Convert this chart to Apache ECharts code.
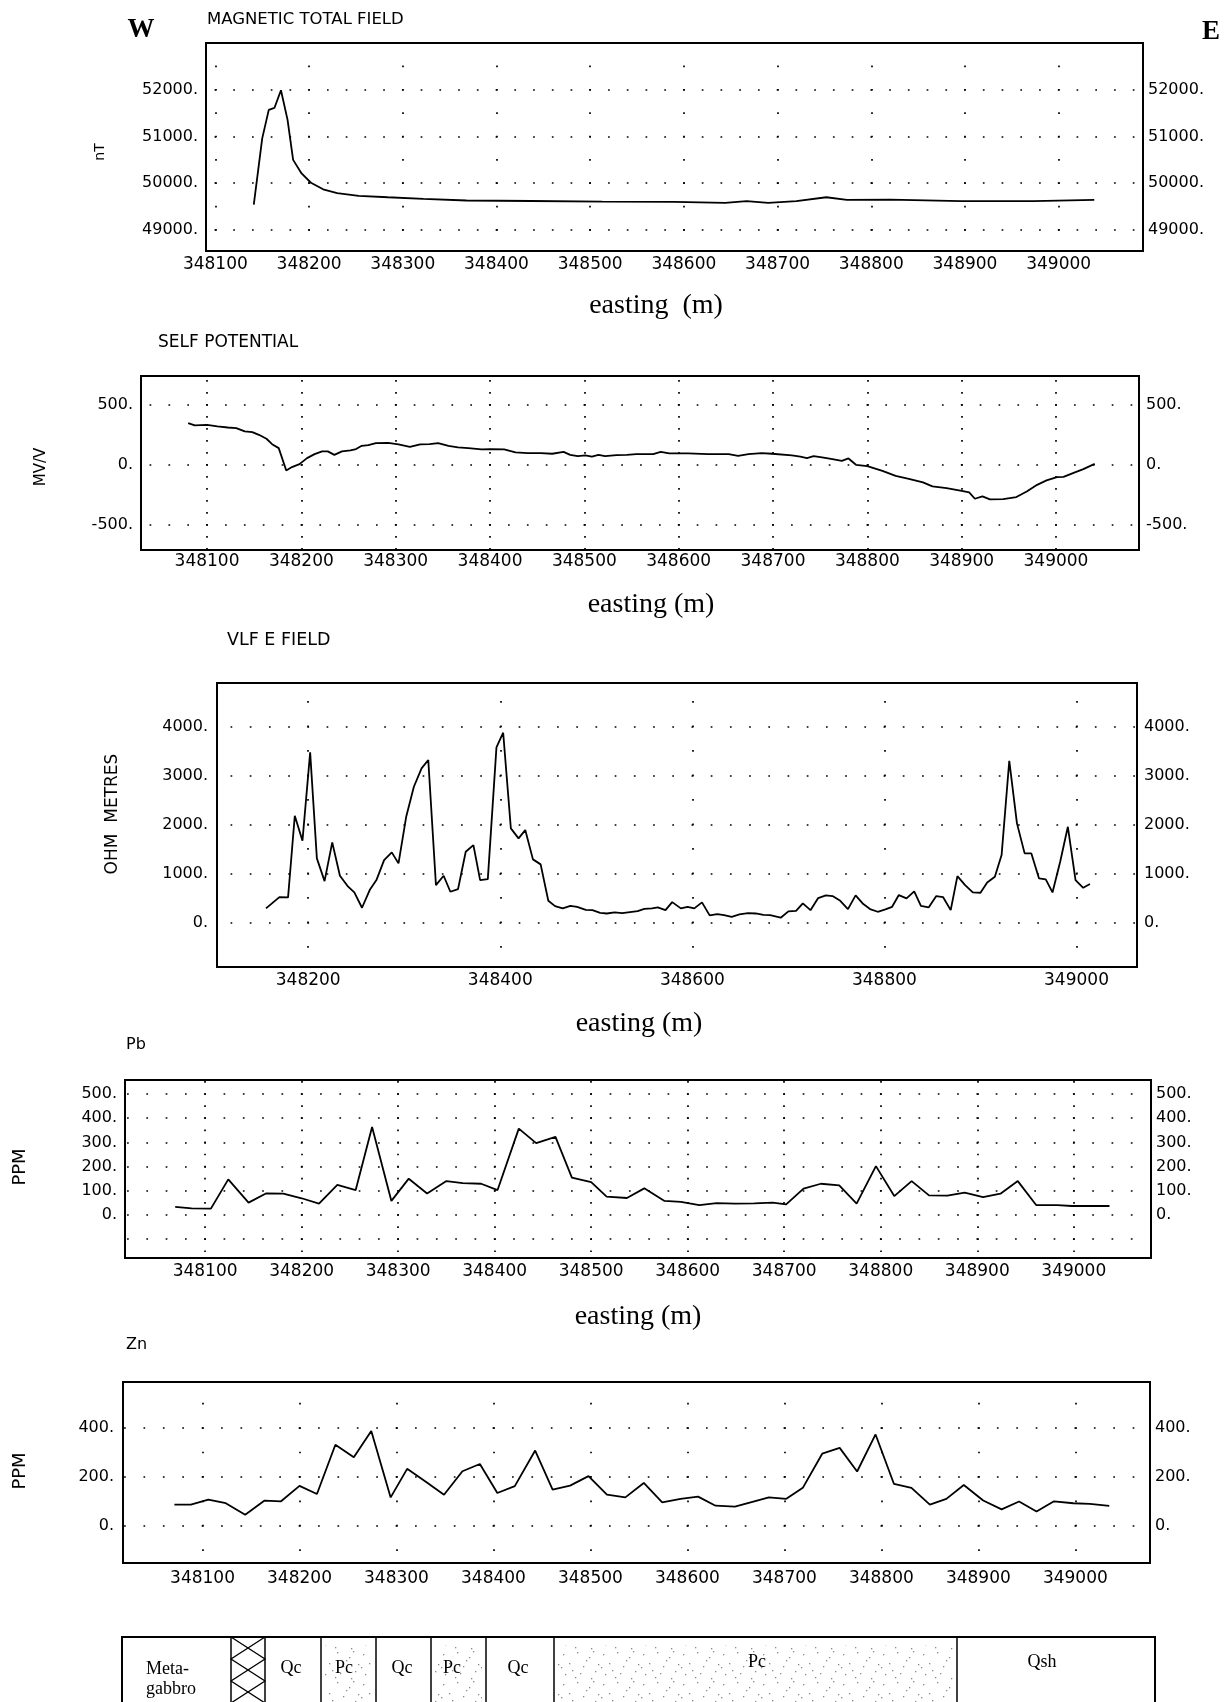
<!DOCTYPE html>
<html>
<head>
<meta charset="utf-8">
<script src="https://cdn.jsdelivr.net/npm/echarts@6/dist/echarts.min.js"></script>
<style>
  html, body { margin: 0; padding: 0; background: #fff; }
  #profile { width: 1226px; height: 1702px; }
</style>
</head>
<body>
<div id="profile"></div>
<script>
// magnetic total field, nT
var magEasting = [348141, 348150, 348157, 348163, 348170, 348177, 348183, 348192, 348202, 348215,
  348230, 348253, 348284, 348322, 348368, 348437, 348513, 348590, 348644, 348667,
  348690, 348720, 348752, 348774, 348820, 348896, 348973, 349038];
var magField = [49540, 50960, 51570, 51610, 51990, 51360, 50500, 50210, 50010, 49870,
  49790, 49730, 49700, 49665, 49630, 49620, 49607, 49600, 49580, 49615,
  49580, 49615, 49700, 49645, 49650, 49615, 49615, 49645];

// self potential, mV/V
var spEasting = [348080, 348087, 348100, 348111, 348122, 348131, 348140, 348148, 348155, 348163,
  348169, 348176, 348184, 348190, 348198, 348206, 348214, 348222, 348228, 348235,
  348243, 348252, 348258, 348264, 348271, 348279, 348292, 348303, 348315, 348326,
  348336, 348345, 348356, 348366, 348377, 348391, 348401, 348415, 348427, 348440,
  348454, 348466, 348478, 348485, 348493, 348501, 348508, 348515, 348522, 348534,
  348545, 348555, 348564, 348573, 348581, 348590, 348610, 348631, 348653, 348663,
  348674, 348688, 348699, 348720, 348729, 348736, 348743, 348752, 348763, 348773,
  348780, 348788, 348800, 348816, 348830, 348844, 348859, 348869, 348884, 348900,
  348908, 348914, 348922, 348930, 348944, 348958, 348969, 348980, 348990, 349001,
  349008, 349018, 349029, 349041];
var spValue = [347, 328, 333, 320, 311, 306, 278, 272, 250, 217,
  172, 139, -47, -19, 6, 56, 89, 112, 112, 83,
  112, 120, 131, 158, 164, 181, 183, 170, 150, 170,
  172, 181, 158, 145, 139, 128, 131, 128, 103, 97,
  97, 92, 108, 83, 72, 78, 69, 83, 72, 81,
  83, 89, 89, 89, 108, 95, 95, 89, 89, 75,
  89, 97, 92, 78, 69, 56, 72, 61, 47, 33,
  53, 0, -11, -50, -92, -117, -147, -180, -194, -217,
  -230, -283, -263, -288, -286, -269, -222, -167, -130, -103,
  -100, -69, -36, 8];

// VLF E field, ohm metres
var vlfEasting = [348156, 348170, 348179, 348186, 348194, 348202, 348209, 348217, 348225, 348233,
  348241, 348248, 348256, 348264, 348271, 348279, 348287, 348294, 348302, 348310,
  348318, 348325, 348333, 348341, 348348, 348356, 348364, 348372, 348379, 348387,
  348396, 348403, 348411, 348419, 348426, 348434, 348442, 348450, 348457, 348465,
  348473, 348480, 348489, 348496, 348504, 348511, 348519, 348527, 348535, 348543,
  348550, 348558, 348564, 348572, 348579, 348588, 348595, 348602, 348610, 348618,
  348626, 348633, 348641, 348649, 348658, 348666, 348674, 348681, 348692, 348700,
  348708, 348715, 348723, 348731, 348739, 348746, 348754, 348762, 348770, 348778,
  348785, 348793, 348801, 348808, 348815, 348823, 348831, 348838, 348846, 348854,
  348861, 348869, 348876, 348884, 348892, 348900, 348907, 348915, 348922, 348930,
  348938, 348946, 348953, 348961, 348968, 348975, 348983, 348991, 348999, 349007,
  349014];
var vlfValue = [286, 516, 510, 2176, 1666, 3470, 1306, 843, 1633, 952,
  741, 612, 299, 659, 863, 1272, 1429, 1204, 2155, 2768,
  3143, 3313, 761, 952, 625, 680, 1441, 1578, 863, 884,
  3572, 3870, 1918, 1714, 1884, 1286, 1184, 441, 333, 286,
  339, 318, 257, 250, 196, 182, 203, 189, 210, 231,
  278, 286, 306, 250, 414, 286, 318, 286, 408, 143,
  169, 149, 114, 162, 189, 182, 155, 149, 95, 224,
  237, 388, 250, 496, 551, 537, 441, 272, 551, 374,
  272, 217, 265, 318, 558, 490, 633, 339, 306, 537,
  517, 250, 945, 761, 612, 605, 816, 931, 1374, 3298,
  2021, 1408, 1408, 898, 877, 612, 1237, 1951, 863, 706,
  782];

// Pb, ppm
var pbEasting = [348069, 348086, 348106, 348124, 348145, 348163, 348181, 348200, 348218, 348237,
  348256, 348273, 348293, 348311, 348330, 348350, 348367, 348386, 348403, 348425,
  348443, 348463, 348480, 348500, 348516, 348537, 348555, 348576, 348593, 348612,
  348630, 348649, 348669, 348688, 348702, 348720, 348738, 348757, 348775, 348795,
  348814, 348832, 348850, 348869, 348887, 348906, 348924, 348942, 348961, 348983,
  348998, 349037];
var pbValue = [33, 27, 26, 147, 51, 89, 88, 69, 47, 124,
  103, 364, 58, 150, 89, 140, 132, 129, 103, 357,
  297, 323, 154, 136, 76, 70, 110, 58, 54, 41,
  49, 47, 48, 51, 44, 109, 129, 122, 47, 202,
  78, 140, 81, 80, 92, 74, 88, 140, 41, 41,
  37, 37];

// Zn, ppm
var znEasting = [348071, 348088, 348106, 348124, 348144, 348164, 348181, 348200, 348218, 348237,
  348256, 348274, 348294, 348311, 348331, 348349, 348368, 348386, 348404, 348422,
  348443, 348461, 348479, 348498, 348517, 348536, 348555, 348574, 348593, 348611,
  348629, 348649, 348668, 348684, 348702, 348719, 348739, 348757, 348775, 348794,
  348813, 348831, 348850, 348867, 348885, 348905, 348924, 348942, 348960, 348978,
  348998, 349015, 349035];
var znValue = [86, 86, 107, 92, 45, 103, 100, 163, 130, 332,
  281, 388, 116, 233, 178, 127, 223, 253, 134, 162,
  308, 148, 164, 203, 127, 116, 175, 96, 110, 119,
  82, 78, 99, 116, 110, 155, 295, 319, 222, 374,
  171, 155, 86, 110, 167, 103, 67, 99, 58, 100,
  92, 89, 81];

// geology strip along the bottom
var geoUnits = ['Meta-\ngabbro', '', 'Qc', 'Pc', 'Qc', 'Pc', 'Qc', 'Pc', 'Qsh'];

var panels = [
  { east: magEasting, val: magField, left: 206, top: 43, width: 937, height: 208,
    xMin: 348090, xMax: 349090, xSplit: 10, yMin: 48550, yMax: 53000, ySplit: 5,
    colDot: 500, labelFloor: -1e9, xMargin: 5, yMarginL: 8, yMarginR: 5 },
  { east: spEasting, val: spValue, left: 141, top: 376, width: 998, height: 174,
    xMin: 348030, xMax: 349088, xSplit: 10, yMin: -710, yMax: 740, ySplit: 3,
    colDot: 100, labelFloor: -1e9, xMargin: 3, yMarginL: 8, yMarginR: 7 },
  { east: vlfEasting, val: vlfValue, left: 217, top: 683, width: 920, height: 284,
    xMin: 348105, xMax: 349063, xSplit: 5, yMin: -910, yMax: 4885, ySplit: 5,
    colDot: 500, labelFloor: 0, xMargin: 5, yMarginL: 9, yMarginR: 7 },
  { east: pbEasting, val: pbValue, left: 125, top: 1080, width: 1026, height: 178,
    xMin: 348017, xMax: 349080, xSplit: 10, yMin: -178, yMax: 558, ySplit: 7,
    colDot: 50, labelFloor: 0, xMargin: 5, yMarginL: 8, yMarginR: 5 },
  { east: znEasting, val: znValue, left: 123, top: 1382, width: 1027, height: 181,
    xMin: 348018, xMax: 349077, xSplit: 10, yMin: -153, yMax: 589, ySplit: 4,
    colDot: 100, labelFloor: 0, xMargin: 7, yMarginL: 9, yMarginR: 5 }
];

var SANS = '"DejaVu Sans", "Liberation Sans", sans-serif';
var SERIF = '"Liberation Serif", "DejaVu Serif", serif';

// dotted plotter grid: a dot every `step` units, lined up on `firstPx`
function dotLine(step, span, lengthPx, firstPx) {
  var period = step / span * lengthPx;
  var dot = 1.7;
  var off = ((firstPx - dot / 2) % period + period) % period;
  return { color: '#000', width: dot, type: [dot, period - dot], dashOffset: (period - off) % period };
}

var grids = [], xAxes = [], yAxes = [], series = [];

panels.forEach(function (p, i) {
  var xSpan = p.xMax - p.xMin, ySpan = p.yMax - p.yMin;
  var firstCol = (Math.ceil(p.xMin / 100) * 100 - p.xMin) / xSpan * p.width;
  var firstRowDot = (p.yMax - Math.floor(p.yMax / p.colDot) * p.colDot) / ySpan * p.height;

  grids.push({
    left: p.left, top: p.top, width: p.width, height: p.height,
    show: true, borderColor: '#000', borderWidth: 2, backgroundColor: 'transparent',
    containLabel: false, outerBoundsMode: 'none'
  });

  xAxes.push({
    type: 'value', gridIndex: i, min: p.xMin, max: p.xMax, splitNumber: p.xSplit,
    axisLine: { show: false }, axisTick: { show: false },
    axisLabel: {
      showMinLabel: false, showMaxLabel: false, margin: p.xMargin, color: '#000',
      fontFamily: SANS, fontSize: 17, formatter: function (v) { return String(v); }
    },
    splitLine: { show: true, lineStyle: dotLine(p.colDot, ySpan, p.height, firstRowDot) }
  });

  var yLabel = function (v) { return v < p.labelFloor ? '' : v + '.'; };
  yAxes.push({
    type: 'value', gridIndex: i, position: 'left', min: p.yMin, max: p.yMax, splitNumber: p.ySplit,
    axisLine: { show: false }, axisTick: { show: false },
    axisLabel: {
      showMinLabel: false, showMaxLabel: false, margin: p.yMarginL, color: '#000',
      fontFamily: SANS, fontSize: 16, formatter: yLabel
    },
    splitLine: { show: true, lineStyle: dotLine(20, xSpan, p.width, firstCol) }
  });
  yAxes.push({
    type: 'value', gridIndex: i, position: 'right', min: p.yMin, max: p.yMax, splitNumber: p.ySplit,
    axisLine: { show: false }, axisTick: { show: false },
    axisLabel: {
      showMinLabel: false, showMaxLabel: false, margin: p.yMarginR, color: '#000',
      fontFamily: SANS, fontSize: 16, formatter: yLabel
    },
    splitLine: { show: false }
  });

  series.push({
    type: 'line', xAxisIndex: i, yAxisIndex: 2 * i,
    data: p.east.map(function (e, k) { return [e, p.val[k]]; }),
    showSymbol: false, symbol: 'none',
    lineStyle: { color: '#000', width: 1.8 }
  });
});

function label(text, x, y, font, opts) {
  opts = opts || {};
  return {
    type: 'text', x: x, y: y, rotation: opts.rotate ? Math.PI / 2 : 0,
    style: {
      text: text, font: font, fill: '#000',
      textAlign: opts.align || 'left', textVerticalAlign: 'middle',
      align: opts.align || 'left', verticalAlign: 'middle'
    }
  };
}

function stipple() {
  var c = document.createElement('canvas');
  c.width = 40; c.height = 30;
  var g = c.getContext('2d');
  g.fillStyle = '#8a8a8a';
  [[3, 4], [17, 2], [29, 7], [9, 13], [23, 16], [35, 21], [5, 24], [15, 27], [31, 28],
   [26, 10], [12, 20], [38, 14], [20, 23], [1, 17], [33, 1]].forEach(function (d) {
    g.fillRect(d[0], d[1], 1.3, 1.3);
  });
  return c;
}
var dots = stipple();

var graphics = [
  label('W', 141, 30, 'bold 27px ' + SERIF, { align: 'center' }),
  label('E', 1211, 32, 'bold 27px ' + SERIF, { align: 'center' }),
  label('MAGNETIC TOTAL FIELD', 207, 20, '16.5px ' + SANS),
  label('SELF POTENTIAL', 158, 343, '17px ' + SANS),
  label('VLF E FIELD', 227, 640, '17.5px ' + SANS),
  label('Pb', 126, 1045, '16px ' + SANS),
  label('Zn', 126, 1345, '16px ' + SANS),
  label('nT', 100, 152, '14px ' + SANS, { rotate: true, align: 'center' }),
  label('MV/V', 41, 467, '15px ' + SANS, { rotate: true, align: 'center' }),
  label('OHM  METRES', 113, 814, '17px ' + SANS, { rotate: true, align: 'center' }),
  label('PPM', 20, 1167, '18px ' + SANS, { rotate: true, align: 'center' }),
  label('PPM', 20, 1471, '18px ' + SANS, { rotate: true, align: 'center' }),
  label('easting  (m)', 656, 306, '28px ' + SERIF, { align: 'center' }),
  label('easting (m)', 651, 605, '28px ' + SERIF, { align: 'center' }),
  label('easting (m)', 639, 1024, '28px ' + SERIF, { align: 'center' }),
  label('easting (m)', 638, 1317, '28px ' + SERIF, { align: 'center' })
];

// geology strip
var stripTop = 1637, stripBottom = 1710;
var cuts = [122, 231, 265, 321, 376, 431, 486, 554, 957, 1155];
var textX = [146, 0, 291, 344, 402, 452, 518, 757, 1042];
graphics.push({
  type: 'rect', shape: { x: 122, y: stripTop, width: 1033, height: stripBottom - stripTop },
  style: { fill: '#fff', stroke: '#000', lineWidth: 2 }
});
[3, 5, 7].forEach(function (k) {
  graphics.push({
    type: 'rect',
    shape: { x: cuts[k] + 4, y: stripTop + 8, width: cuts[k + 1] - cuts[k] - 8, height: stripBottom - stripTop - 8 },
    style: { fill: { image: dots, repeat: 'repeat' }, stroke: null }
  });
});
cuts.slice(1, -1).forEach(function (x) {
  graphics.push({
    type: 'line', shape: { x1: x, y1: stripTop, x2: x, y2: stripBottom },
    style: { stroke: '#000', lineWidth: 1.5 }
  });
});
var hatchL = cuts[1], hatchR = cuts[2], h = 22;
graphics.push({
  type: 'polyline',
  shape: { points: [[hatchL, stripTop], [hatchR, stripTop + h], [hatchL, stripTop + 2 * h], [hatchR, stripTop + 3 * h]] },
  style: { stroke: '#000', lineWidth: 1.3, fill: null }
});
graphics.push({
  type: 'polyline',
  shape: { points: [[hatchR, stripTop], [hatchL, stripTop + h], [hatchR, stripTop + 2 * h], [hatchL, stripTop + 3 * h]] },
  style: { stroke: '#000', lineWidth: 1.3, fill: null }
});
geoUnits.forEach(function (t, k) {
  if (!t) return;
  if (k === 0) {
    graphics.push(label('Meta-', textX[k], 1669, '18px ' + SERIF));
    graphics.push(label('gabbro', textX[k], 1689, '18px ' + SERIF));
  } else {
    graphics.push(label(t, textX[k], k === 8 || k === 7 ? 1662 : 1668, '18px ' + SERIF, { align: 'center' }));
  }
});

var chart = echarts.init(document.getElementById('profile'));
chart.setOption({
  backgroundColor: '#fff',
  animation: false,
  grid: grids,
  xAxis: xAxes,
  yAxis: yAxes,
  series: series,
  graphic: { elements: graphics }
});
</script>
</body>
</html>
